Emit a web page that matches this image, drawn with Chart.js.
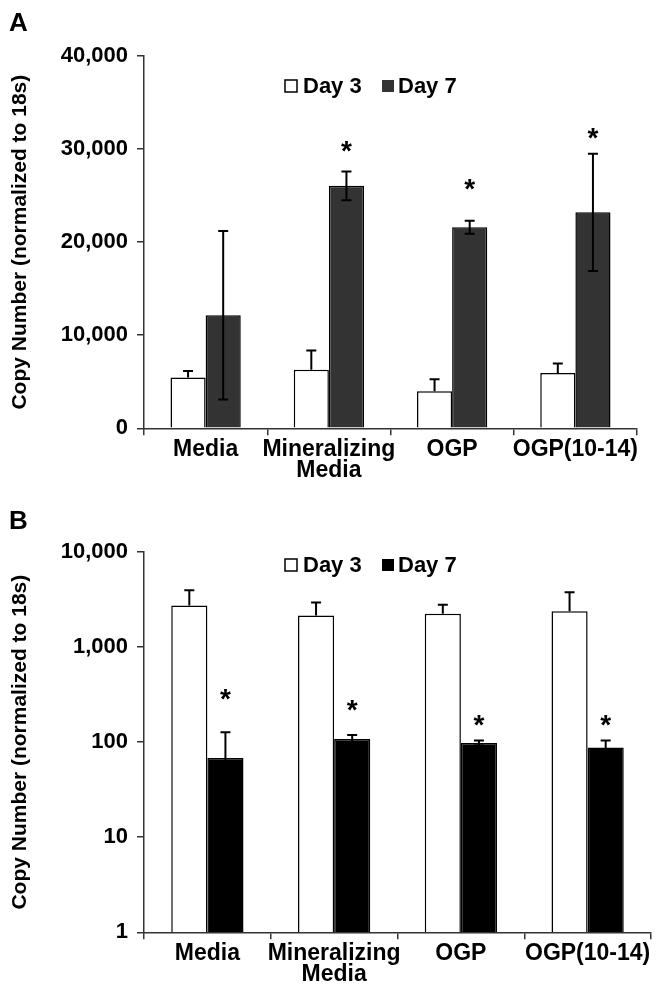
<!DOCTYPE html>
<html lang="en">
<head>
    <meta charset="UTF-8">
    <title>Copy Number</title>
    <script src="https://cdn.jsdelivr.net/npm/chart.js"></script>
    <style>
        body { margin: 0; background: #fff; }
        .panel { position: absolute; left: 0; }
        #panelA { top: 0; }
        #panelB { top: 485px; }
    </style>
</head>
<body>
    <div class="panel" id="panelA"><canvas id="chartA" width="658" height="485"></canvas></div>
    <div class="panel" id="panelB"><canvas id="chartB" width="658" height="504"></canvas></div>

    <script>
        // categories
        const categories = ['Media', ['Mineralizing', 'Media'], 'OGP', 'OGP(10-14)'];
        const seriesNames = ['Day 3', 'Day 7'];

        // panel A (linear)
        const day3A = [5450, 6300, 3980, 5950];
        const day7A = [12150, 26050, 21600, 23200];
        const err3A = [700, 2050, 1300, 1000];
        const err7A = [9050, 1550, 700, 6300];
        const starA = [null, 30400, 26300, 31800];
        const ticksA = [0, 10000, 20000, 30000, 40000];

        // panel B (log)
        const day3B = [2740, 2145, 2235, 2385];
        const day7B = [68, 108, 98, 88];
        const err3B = [1220, 805, 555, 1390];
        const err7B = [59, 11, 6, 16];
        const starB = [326, 249, 176, 174];
        const ticksB = [1, 10, 100, 1000, 10000];

        const FONT = "'Liberation Sans', Arial, Helvetica, sans-serif";
        const axisTitle = 'Copy Number (normalized to 18s)';

        // error bars, asterisks, in-plot legend and panel letter
        const extrasPlugin = {
            id: 'extras',
            afterDatasetsDraw(chart, args, opts) {
                const ctx = chart.ctx;
                const y = chart.scales.y;
                ctx.save();
                ctx.strokeStyle = '#000';
                ctx.lineWidth = 2;
                chart.data.datasets.forEach((ds, di) => {
                    const meta = chart.getDatasetMeta(di);
                    meta.data.forEach((bar, i) => {
                        const v = ds.data[i];
                        const e = ds.errors[i];
                        const top = y.getPixelForValue(v + e);
                        ctx.beginPath();
                        ctx.moveTo(bar.x, bar.y);
                        ctx.lineTo(bar.x, top);
                        ctx.moveTo(bar.x - 5, top);
                        ctx.lineTo(bar.x + 5, top);
                        if (ds.lowerError) {
                            const low = y.getPixelForValue(v - e);
                            ctx.moveTo(bar.x, bar.y);
                            ctx.lineTo(bar.x, low);
                            ctx.moveTo(bar.x - 5, low);
                            ctx.lineTo(bar.x + 5, low);
                        }
                        ctx.stroke();
                    });
                });

                // asterisks over Day 7
                const meta7 = chart.getDatasetMeta(1);
                ctx.fillStyle = '#000';
                ctx.font = 'bold 28px ' + FONT;
                ctx.textAlign = 'center';
                ctx.textBaseline = 'middle';
                opts.stars.forEach((s, i) => {
                    if (s == null) return;
                    ctx.fillText('*', meta7.data[i].x, y.getPixelForValue(s) + 7);
                });

                // legend
                const area = chart.chartArea;
                const ly = area.top + opts.legendY;
                const lx = area.left + 141;
                ctx.font = 'bold 22px ' + FONT;
                ctx.textAlign = 'left';
                ctx.textBaseline = 'middle';
                ctx.lineWidth = 1.5;
                ctx.fillStyle = '#fff';
                ctx.fillRect(lx, ly - 6, 12, 12);
                ctx.strokeRect(lx, ly - 6, 12, 12);
                ctx.fillStyle = '#000';
                ctx.fillText(seriesNames[0], lx + 18, ly + 1);
                ctx.fillStyle = chart.data.datasets[1].backgroundColor;
                ctx.fillRect(lx + 97, ly - 6, 12, 12);
                ctx.fillStyle = '#000';
                ctx.fillText(seriesNames[1], lx + 113, ly + 1);

                // panel letter
                ctx.font = 'bold 26px ' + FONT;
                ctx.fillText(opts.letter, 9, opts.letterY);
                ctx.restore();
            }
        };

        function makeChart(id, d3, d7, e3, e7, dark, yScale, stars, letter, letterY, legendY, padRight, padTop) {
            return new Chart(document.getElementById(id), {
                type: 'bar',
                data: {
                    labels: categories,
                    datasets: [
                        {
                            label: seriesNames[0], data: d3, errors: e3, lowerError: false,
                            backgroundColor: '#fff', borderColor: '#000', borderWidth: 1.5,
                            categoryPercentage: 0.57, barPercentage: 1
                        },
                        {
                            label: seriesNames[1], data: d7, errors: e7, lowerError: true,
                            backgroundColor: dark, borderColor: '#000', borderWidth: 1.5,
                            categoryPercentage: 0.57, barPercentage: 1
                        }
                    ]
                },
                options: {
                    responsive: false,
                    animation: false,
                    layout: { padding: { top: padTop, right: padRight, left: 0, bottom: 0 } },
                    plugins: {
                        legend: { display: false },
                        tooltip: { enabled: false },
                        extras: { stars: stars, letter: letter, letterY: letterY, legendY: legendY }
                    },
                    scales: {
                        x: {
                            grid: { offset: true, drawOnChartArea: false, tickLength: 7, color: '#333', lineWidth: 1.5 },
                            border: { color: '#333', width: 1.5 },
                            ticks: {
                                color: '#000', padding: 3, maxRotation: 0, autoSkip: false,
                                font: { family: FONT, size: 23, weight: 'bold', lineHeight: 0.95 }
                            }
                        },
                        y: Object.assign({
                            grid: { drawOnChartArea: false, tickLength: 7, color: '#333', lineWidth: 1.5 },
                            border: { color: '#333', width: 1.5 },
                            title: {
                                display: true, text: axisTitle, color: '#000',
                                padding: { top: 8, bottom: 0 },
                                font: { family: FONT, size: 21, weight: 'bold', lineHeight: 1.2 }
                            },
                            afterFit(scale) { scale.width = 144; }
                        }, yScale)
                    }
                },
                plugins: [extrasPlugin]
            });
        }

        makeChart('chartA', day3A, day7A, err3A, err7A, '#333333', {
            type: 'linear', min: 0, max: 40000,
            afterBuildTicks(scale) { scale.ticks = ticksA.map(v => ({ value: v })); },
            ticks: {
                color: '#000', padding: 9,
                font: { family: FONT, size: 22, weight: 'bold' },
                callback: v => v.toLocaleString('en-US')
            }
        }, starA, 'A', 24, 30, 21, 56);

        makeChart('chartB', day3B, day7B, err3B, err7B, '#000000', {
            type: 'logarithmic', min: 1, max: 10000,
            afterBuildTicks(scale) { scale.ticks = ticksB.map(v => ({ value: v })); },
            ticks: {
                color: '#000', padding: 9,
                font: { family: FONT, size: 22, weight: 'bold' },
                callback: v => Number(v).toLocaleString('en-US')
            }
        }, starB, 'B', 37, 13, 7, 67);
    </script>
</body>
</html>
